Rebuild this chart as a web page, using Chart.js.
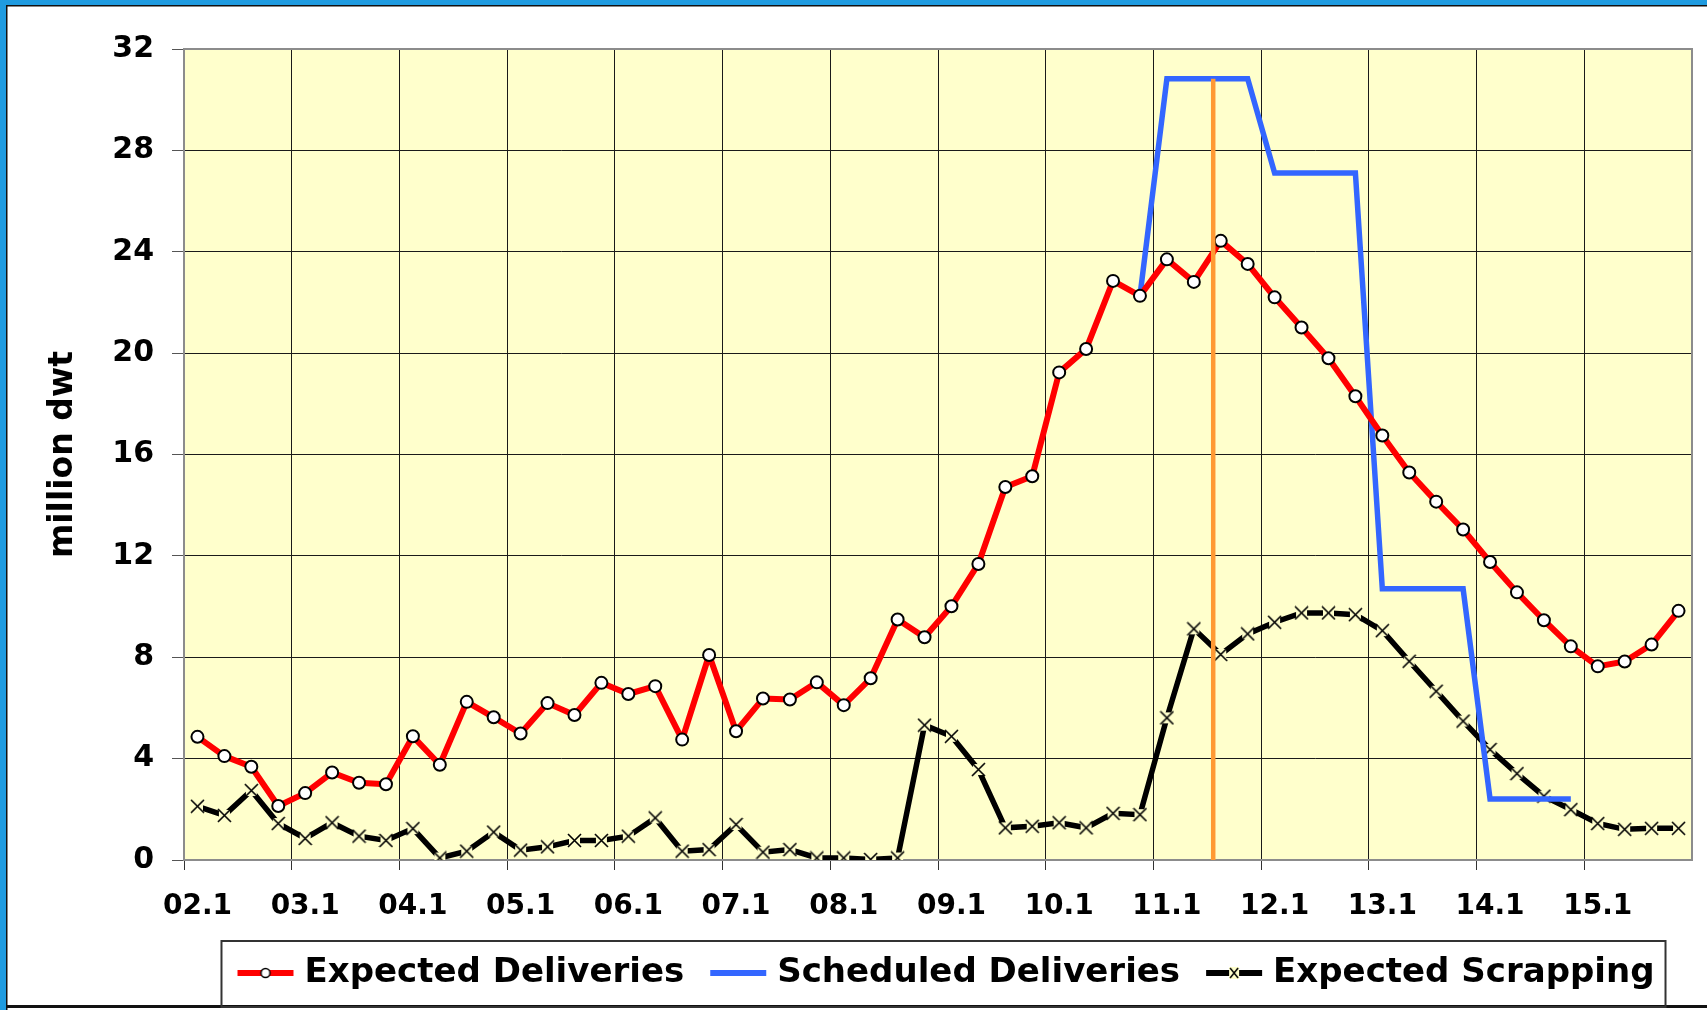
<!DOCTYPE html>
<html>
<head>
<meta charset="utf-8">
<title>Deliveries and Scrapping</title>
<script src="https://cdn.jsdelivr.net/npm/chart.js@4.4.1/dist/chart.umd.min.js"></script>
<style>
    html, body { margin: 0; padding: 0; background: #ffffff; }
    #chart-box { position: relative; width: 1707px; height: 1010px; }
</style>
</head>
<body>
<div id="chart-box"><canvas id="chart1"></canvas></div>
<script>
// categories: quarters 02.1 .. 15.4
const years = ['02', '03', '04', '05', '06', '07', '08', '09', '10', '11', '12', '13', '14', '15'];
const quarters = years.flatMap(y => ['1', '2', '3', '4'].map(q => y + '.' + q));

const expectedDeliveries = [
    4.86, 4.10, 3.68, 2.13, 2.64, 3.45, 3.05, 2.99,
    4.88, 3.76, 6.24, 5.63, 4.99, 6.19, 5.72, 6.99,
    6.55, 6.86, 4.75, 8.09, 5.08, 6.37, 6.33, 7.01,
    6.11, 7.17, 9.49, 8.79, 10.01, 11.68, 14.72, 15.14,
    19.24, 20.16, 22.85, 22.26, 23.70, 22.81, 24.43, 23.52,
    22.20, 21.01, 19.80, 18.30, 16.75, 15.29, 14.14, 13.04,
    11.76, 10.56, 9.46, 8.43, 7.64, 7.83, 8.50, 9.83
];
const scheduledDeliveries = [
    null, null, null, null, null, null, null, null,
    null, null, null, null, null, null, null, null,
    null, null, null, null, null, null, null, null,
    null, null, null, null, null, null, null, null,
    null, null, null, 22.26, 30.83, 30.83, 30.83, 30.83,
    27.11, 27.11, 27.11, 27.11, 10.70, 10.70, 10.70, 10.70,
    2.41, 2.41, 2.41, 2.41, null, null, null, null
];
const expectedScrapping = [
    2.12, 1.76, 2.74, 1.44, 0.85, 1.47, 0.94, 0.77,
    1.24, 0.08, 0.35, 1.10, 0.39, 0.52, 0.77, 0.77,
    0.94, 1.66, 0.35, 0.41, 1.40, 0.31, 0.41, 0.08,
    0.08, 0.02, 0.08, 5.32, 4.88, 3.57, 1.27, 1.33,
    1.47, 1.27, 1.84, 1.79, 5.61, 9.12, 8.11, 8.92,
    9.38, 9.75, 9.75, 9.68, 9.05, 7.84, 6.66, 5.48,
    4.36, 3.41, 2.52, 1.99, 1.44, 1.21, 1.25, 1.25
];
const yTicks = [0, 4, 8, 12, 16, 20, 24, 28, 32];

// orange "today" marker, in quarter index units and million dwt
const nowPosition = 37.72;
const nowTop = 30.83;

const boldFont = size => ({family: 'DejaVu Sans', size: size, weight: 'bold'});

// x marker with a pale fill, like the spreadsheet one
function makeCross(size) {
    const c = document.createElement('canvas');
    c.width = size;
    c.height = size;
    const g = c.getContext('2d');
    g.fillStyle = '#ffffcc';
    g.fillRect(2, 2, size - 4, size - 4);
    g.strokeStyle = '#000000';
    g.lineWidth = 1.6;
    g.beginPath();
    g.moveTo(1, 1); g.lineTo(size - 1, size - 1);
    g.moveTo(size - 1, 1); g.lineTo(1, size - 1);
    g.stroke();
    return c;
}
const crossMarker = makeCross(15);

function makeSample(color, marker) {
    const c = document.createElement('canvas');
    c.width = 60;
    c.height = 16;
    const g = c.getContext('2d');
    g.strokeStyle = color;
    g.lineWidth = 6;
    g.beginPath();
    g.moveTo(2, 8);
    g.lineTo(58, 8);
    g.stroke();
    if (marker === 'circle') {
        g.fillStyle = '#ffffff';
        g.strokeStyle = '#000000';
        g.lineWidth = 1.5;
        g.beginPath();
        g.arc(30, 8, 4.5, 0, Math.PI * 2);
        g.fill();
        g.stroke();
    }
    if (marker === 'cross') {
        g.fillStyle = '#ffffcc';
        g.fillRect(25, 2, 10, 12);
        g.strokeStyle = '#000000';
        g.lineWidth = 1.5;
        g.beginPath();
        g.moveTo(26, 3); g.lineTo(34, 13);
        g.moveTo(34, 3); g.lineTo(26, 13);
        g.stroke();
    }
    return c;
}
const legendSamples = [
    makeSample('#ff0000', 'circle'),
    makeSample('#3366ff', null),
    makeSample('#000000', 'cross')
];

const frame = {
    id: 'frame',
    afterLayout(chart) {
        // legend sits a little right of the plot centre
        chart.legend.left += 11;
        chart.legend.right += 11;
    },
    beforeDraw(chart) {
        const {ctx, chartArea: a} = chart;
        const w = chart.width, h = chart.height;
        ctx.save();
        ctx.fillStyle = '#ffffff';
        ctx.fillRect(0, 0, w, h);
        ctx.fillStyle = '#1f9be0';
        ctx.fillRect(0, 0, w, 5);
        ctx.fillRect(0, 0, 6, h);
        ctx.fillStyle = '#111111';
        ctx.fillRect(6, 5, w - 6, 1.5);
        ctx.fillRect(6, 5, 1.5, h - 5);
        ctx.fillRect(6, h - 5, w - 6, 3);
        ctx.fillStyle = '#ffffcc';
        ctx.fillRect(a.left, a.top, a.width, a.height);
        ctx.restore();
    },
    beforeDatasetsDraw(chart) {
        const {ctx, chartArea: a} = chart;
        ctx.save();
        ctx.strokeStyle = '#8c8c8c';
        ctx.lineWidth = 2;
        ctx.strokeRect(a.left, a.top, a.width, a.height);
        ctx.restore();
    },
    afterDatasetsDraw(chart) {
        const {ctx, scales: {x, y}} = chart;
        const i = Math.floor(nowPosition);
        const x0 = x.getPixelForValue(i);
        const x1 = x.getPixelForValue(i + 1);
        const px = x0 + (x1 - x0) * (nowPosition - i);
        ctx.save();
        ctx.strokeStyle = '#ff9933';
        ctx.lineWidth = 4.5;
        ctx.beginPath();
        ctx.moveTo(px, y.getPixelForValue(0));
        ctx.lineTo(px, y.getPixelForValue(nowTop));
        ctx.stroke();
        ctx.restore();
    },
    afterDraw(chart) {
        // box round the legend
        const boxes = chart.legend.legendHitBoxes;
        const first = boxes[0];
        const last = boxes[boxes.length - 1];
        const cy = first.top + first.height / 2;
        const left = first.left - 22;
        const right = last.left + last.width + 11;
        const ctx = chart.ctx;
        ctx.save();
        ctx.strokeStyle = '#333333';
        ctx.lineWidth = 2;
        ctx.strokeRect(left, cy - 32, right - left, 66);
        ctx.restore();
    }
};

const ctx1 = document.getElementById('chart1');
const chart1 = new Chart(ctx1, {
    type: 'line',
    data: {
        labels: quarters,
        datasets: [{
            label: 'Expected Deliveries',
            data: expectedDeliveries,
            borderColor: '#ff0000',
            backgroundColor: '#ff0000',
            borderWidth: 6,
            borderJoinStyle: 'round',
            pointRadius: 6,
            pointBorderWidth: 2,
            pointBackgroundColor: '#ffffff',
            pointBorderColor: '#000000'
        }, {
            label: 'Scheduled Deliveries',
            data: scheduledDeliveries,
            borderColor: '#3366ff',
            backgroundColor: '#3366ff',
            borderWidth: 5.5,
            pointRadius: 0
        }, {
            label: 'Expected Scrapping',
            data: expectedScrapping,
            borderColor: '#000000',
            backgroundColor: '#000000',
            borderWidth: 5.5,
            pointStyle: crossMarker,
            pointRadius: 7
        }]
    },
    options: {
        responsive: true,
        maintainAspectRatio: false,
        animation: false,
        layout: {padding: {left: 0, right: 15, top: 49, bottom: 10}},
        plugins: {
            tooltip: {enabled: false},
            legend: {
                position: 'bottom',
                fullSize: false,
                labels: {
                    usePointStyle: true,
                    pointStyleWidth: 44,
                    padding: 32,
                    color: '#000000',
                    font: boldFont(34),
                    generateLabels(chart) {
                        const items = Chart.defaults.plugins.legend.labels.generateLabels(chart);
                        items.forEach((item, i) => { item.pointStyle = legendSamples[i]; });
                        return items;
                    }
                }
            }
        },
        scales: {
            x: {
                type: 'category',
                offset: true,
                grid: {
                    offset: true,
                    color: c => c.index % 4 === 0 ? '#1a1a1a' : 'rgba(0,0,0,0)',
                    tickColor: c => c.index % 4 === 0 ? '#333333' : 'rgba(0,0,0,0)',
                    tickLength: 10,
                    lineWidth: 1
                },
                border: {color: '#7f7f7f', width: 2},
                ticks: {
                    autoSkip: false,
                    maxRotation: 0,
                    minRotation: 0,
                    color: '#000000',
                    padding: 20,
                    font: boldFont(28),
                    callback(value, index) {
                        return index % 4 === 0 ? this.getLabelForValue(value) : '';
                    }
                },
                afterFit(scale) { scale.height = 64; }
            },
            y: {
                min: 0,
                max: 32,
                afterBuildTicks(scale) { scale.ticks = yTicks.map(v => ({value: v})); },
                grid: {color: '#1a1a1a', tickColor: '#555555', tickLength: 12, lineWidth: 1},
                border: {color: '#7f7f7f', width: 2},
                ticks: {color: '#000000', padding: 18, font: boldFont(30)},
                title: {
                    display: true,
                    text: 'million dwt',
                    color: '#000000',
                    font: boldFont(33),
                    padding: {top: 44, bottom: 0}
                },
                afterFit(scale) { scale.width = 184; }
            }
        }
    },
    plugins: [frame]
});
</script>
</body>
</html>
